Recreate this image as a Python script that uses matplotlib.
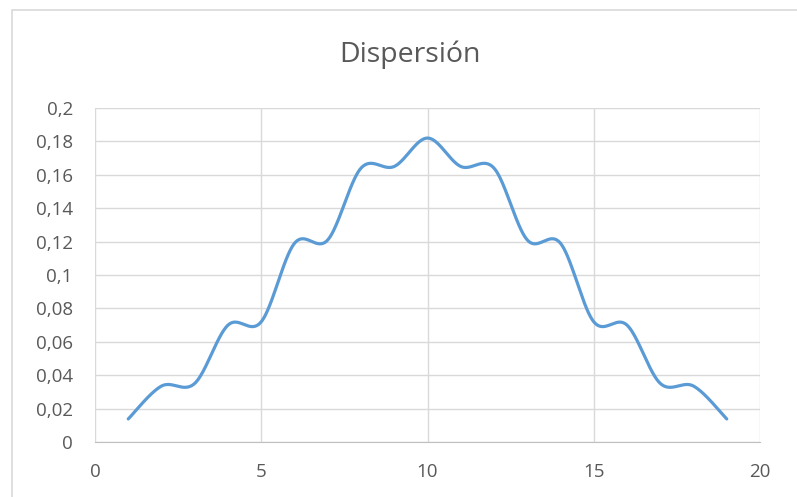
import matplotlib
matplotlib.use('Agg')
import matplotlib.pyplot as plt
import numpy as np
from matplotlib.patches import Rectangle
from matplotlib.ticker import FuncFormatter

x_vals = [1, 2, 3, 4, 5, 6, 7, 8, 9, 10, 11, 12, 13, 14, 15, 16, 17, 18, 19]
y_vals = [0.0138, 0.0335, 0.0351, 0.070, 0.072, 0.119, 0.121, 0.164, 0.165, 0.182,
          0.165, 0.164, 0.121, 0.119, 0.072, 0.070, 0.0351, 0.0335, 0.0138]
title = 'Dispersión'


def smooth_curve(xs, ys, n=40):
    # Catmull-Rom style smoothing, like Excel's smoothed lines
    p = np.column_stack([xs, ys]).astype(float)
    pts = np.vstack([p[0], p, p[-1]])
    out = []
    t = np.linspace(0, 1, n)[:, None]
    for i in range(1, len(pts) - 2):
        p0, p1, p2, p3 = pts[i - 1], pts[i], pts[i + 1], pts[i + 2]
        m1 = (p2 - p0) / 2
        m2 = (p3 - p1) / 2
        h00 = 2 * t**3 - 3 * t**2 + 1
        h10 = t**3 - 2 * t**2 + t
        h01 = -2 * t**3 + 3 * t**2
        h11 = t**3 - t**2
        out.append(h00 * p1 + h10 * m1 + h01 * p2 + h11 * m2)
    c = np.vstack(out)
    return c[:, 0], c[:, 1]


plt.rcParams['font.family'] = ['Open Sans', 'DejaVu Sans']

fig = plt.figure(figsize=(7.97, 4.97), dpi=100)
ax = fig.add_axes([95 / 797, 1 - 442 / 497, 665 / 797, 334 / 497])

sx, sy = smooth_curve(x_vals, y_vals)
ax.plot(sx, sy, color='#5B9BD5', lw=2.3, solid_capstyle='round', zorder=3)

ax.set_xlim(0, 20)
ax.set_ylim(0, 0.2)
ax.set_xticks(range(0, 21, 5))
ax.set_yticks(np.arange(0, 0.201, 0.02))
ax.yaxis.set_major_formatter(FuncFormatter(lambda v, _: ('%g' % round(v, 2)).replace('.', ',')))
ax.grid(True, color='#D9D9D9', lw=1)
ax.set_axisbelow(True)
for s in ['top', 'right', 'left']:
    ax.spines[s].set_visible(False)
ax.spines['bottom'].set_color('#BFBFBF')
ax.tick_params(length=0, labelsize=13.5, labelcolor='#595959')
ax.tick_params(axis='x', pad=15)
ax.tick_params(axis='y', pad=16)

fig.text(410 / 797, 1 - 55 / 497, title, ha='center', va='center',
         fontsize=20.5, color='#595959')

fig.patches.append(Rectangle((12 / 797, -0.1), 2, 1.1 - 10 / 497,
                             transform=fig.transFigure, fill=False,
                             edgecolor='#D9D9D9', lw=1.2))

fig.savefig('out.png', dpi=100)
